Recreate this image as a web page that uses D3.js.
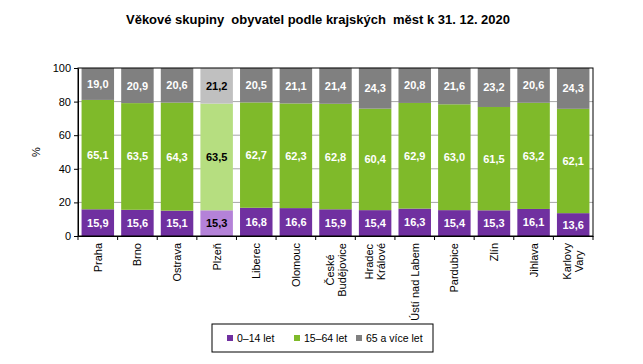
<!DOCTYPE html>
<html>
<head>
<meta charset="utf-8">
<script src="https://cdn.jsdelivr.net/npm/d3@7"></script>
<style>
  body { margin: 0; background: #fff; }
  svg { font-family: "Liberation Sans", Arial, sans-serif; }
</style>
</head>
<body>
<svg width="643" height="364"></svg>
<script>
const cities = ['Praha', 'Brno', 'Ostrava', 'Plzeň', 'Liberec', 'Olomouc', 'České\nBudějovice',
  'Hradec\nKrálové', 'Ústí nad Labem', 'Pardubice', 'Zlín', 'Jihlava', 'Karlovy\nVary'];
const kids = [15.9, 15.6, 15.1, 15.3, 16.8, 16.6, 15.9, 15.4, 16.3, 15.4, 15.3, 16.1, 13.6];
const adults = [65.1, 63.5, 64.3, 63.5, 62.7, 62.3, 62.8, 60.4, 62.9, 63.0, 61.5, 63.2, 62.1];
const seniors = [19.0, 20.9, 20.6, 21.2, 20.5, 21.1, 21.4, 24.3, 20.8, 21.6, 23.2, 20.6, 24.3];
const seriesNames = ['0–14 let', '15–64 let', '65 a více let'];
const yTicks = [0, 20, 40, 60, 80, 100];
const highlight = 'Plzeň';

const colors = ['#7030a0', '#7fba2a', '#808080'];
const lightColors = ['#b482d8', '#b6de80', '#c0c0c0'];

const svg = d3.select('svg'),
    margin = {top: 68, right: 50, bottom: 128, left: 78},
    width = 643 - margin.left - margin.right,
    height = 364 - margin.top - margin.bottom;

const rows = cities.map((c, i) => ({city: c, s0: kids[i], s1: adults[i], s2: seniors[i]}));
const stack = d3.stack().keys(['s0', 's1', 's2'])(rows);

const x = d3.scaleBand().domain(cities).range([0, width]).paddingInner(0.18).paddingOuter(0.09);
const y = d3.scaleLinear().domain([0, 100]).range([height, 0]);

svg.append('text')
    .attr('x', 318).attr('y', 24)
    .attr('text-anchor', 'middle')
    .attr('font-size', 13).attr('font-weight', 'bold')
    .attr('textLength', 384).attr('lengthAdjust', 'spacingAndGlyphs')
    .style('white-space', 'pre')
    .text('Věkové skupiny  obyvatel podle krajských  měst k 31. 12. 2020');

const g = svg.append('g')
    .attr('transform', 'translate(' + margin.left + ',' + margin.top + ')');

g.append('g')
  .selectAll('line').data(yTicks.slice(1, -1)).enter().append('line')
    .attr('x1', 0).attr('x2', width)
    .attr('y1', d => y(d)).attr('y2', d => y(d))
    .attr('stroke', '#a6a6a6');

const layer = g.selectAll('.layer').data(stack).enter().append('g');

layer.selectAll('rect').data((d, k) => d.map(p => ({p, k}))).enter().append('rect')
    .attr('x', d => x(d.p.data.city))
    .attr('width', x.bandwidth())
    .attr('y', d => y(d.p[1]))
    .attr('height', d => y(d.p[0]) - y(d.p[1]))
    .attr('fill', d => (d.p.data.city === highlight ? lightColors : colors)[d.k]);

layer.selectAll('text').data((d, k) => d.map(p => ({p, k}))).enter().append('text')
    .attr('x', d => x(d.p.data.city) + x.bandwidth() / 2)
    .attr('y', d => (y(d.p[0]) + y(d.p[1])) / 2 + 4)
    .attr('text-anchor', 'middle')
    .attr('font-size', 11).attr('font-weight', 'bold')
    .attr('fill', d => d.p.data.city === highlight ? '#000' : '#fff')
    .text(d => d3.format('.1f')(d.p[1] - d.p[0]).replace('.', ','));

// frame
g.append('rect')
    .attr('width', width).attr('height', height)
    .attr('fill', 'none').attr('stroke', '#000');

const yAxis = g.append('g')
    .call(d3.axisLeft(y).tickValues(yTicks).tickSize(4).tickSizeOuter(0));
yAxis.select('.domain').attr('stroke', '#000');
yAxis.selectAll('text').attr('font-size', 11).attr('fill', '#000')
    .attr('font-family', '"Liberation Sans", Arial, sans-serif');

const xAxis = g.append('g')
    .attr('transform', 'translate(0,' + height + ')')
    .call(d3.axisBottom(x).tickSize(0).tickSizeOuter(0));
xAxis.select('.domain').attr('stroke', '#000');
xAxis.selectAll('.tick text').remove();

g.append('g')
    .attr('transform', 'translate(0,' + height + ')')
  .selectAll('line').data(d3.range(cities.length + 1)).enter().append('line')
    .attr('x1', i => i * x.step()).attr('x2', i => i * x.step())
    .attr('y1', 0).attr('y2', 4)
    .attr('stroke', '#000');

const lbl = g.append('g').selectAll('text').data(cities).enter().append('text')
    .attr('transform', d => {
      const n = d.split('\n').length;
      return 'translate(' + (x(d) + x.bandwidth() / 2 - (n - 1) * 6 + 4) + ',' + (height + 7) + ') rotate(-90)';
    })
    .attr('text-anchor', 'end')
    .attr('font-size', 11).attr('fill', '#000');
lbl.selectAll('tspan').data(d => d.split('\n')).enter().append('tspan')
    .attr('x', 0)
    .attr('dy', (d, i) => i === 0 ? 0 : 12)
    .text(d => d);
// center multiline labels on their longest line
lbl.filter(d => d.includes('\n')).each(function() {
  const el = d3.select(this);
  const w = d3.max(el.selectAll('tspan').nodes(), n => n.getComputedTextLength());
  el.selectAll('tspan').attr('text-anchor', 'middle').attr('x', -w / 2);
});

svg.append('text')
    .attr('transform', 'translate(40,' + (margin.top + height / 2) + ') rotate(-90)')
    .attr('text-anchor', 'middle')
    .attr('font-size', 11)
    .text('%');

const legend = svg.append('g').attr('transform', 'translate(212,324)');
legend.append('rect')
    .attr('width', 221).attr('height', 28)
    .attr('fill', '#fff').attr('stroke', '#000');
const legendX = [15, 82, 144];
const item = legend.selectAll('.item').data(seriesNames).enter().append('g')
    .attr('transform', (d, i) => 'translate(' + legendX[i] + ',14)');
item.append('rect')
    .attr('x', 0).attr('y', -3).attr('width', 6).attr('height', 6)
    .attr('fill', (d, i) => colors[i]);
item.append('text')
    .attr('x', 10).attr('y', 4)
    .attr('font-size', 10.5)
    .text(d => d);
</script>
</body>
</html>
